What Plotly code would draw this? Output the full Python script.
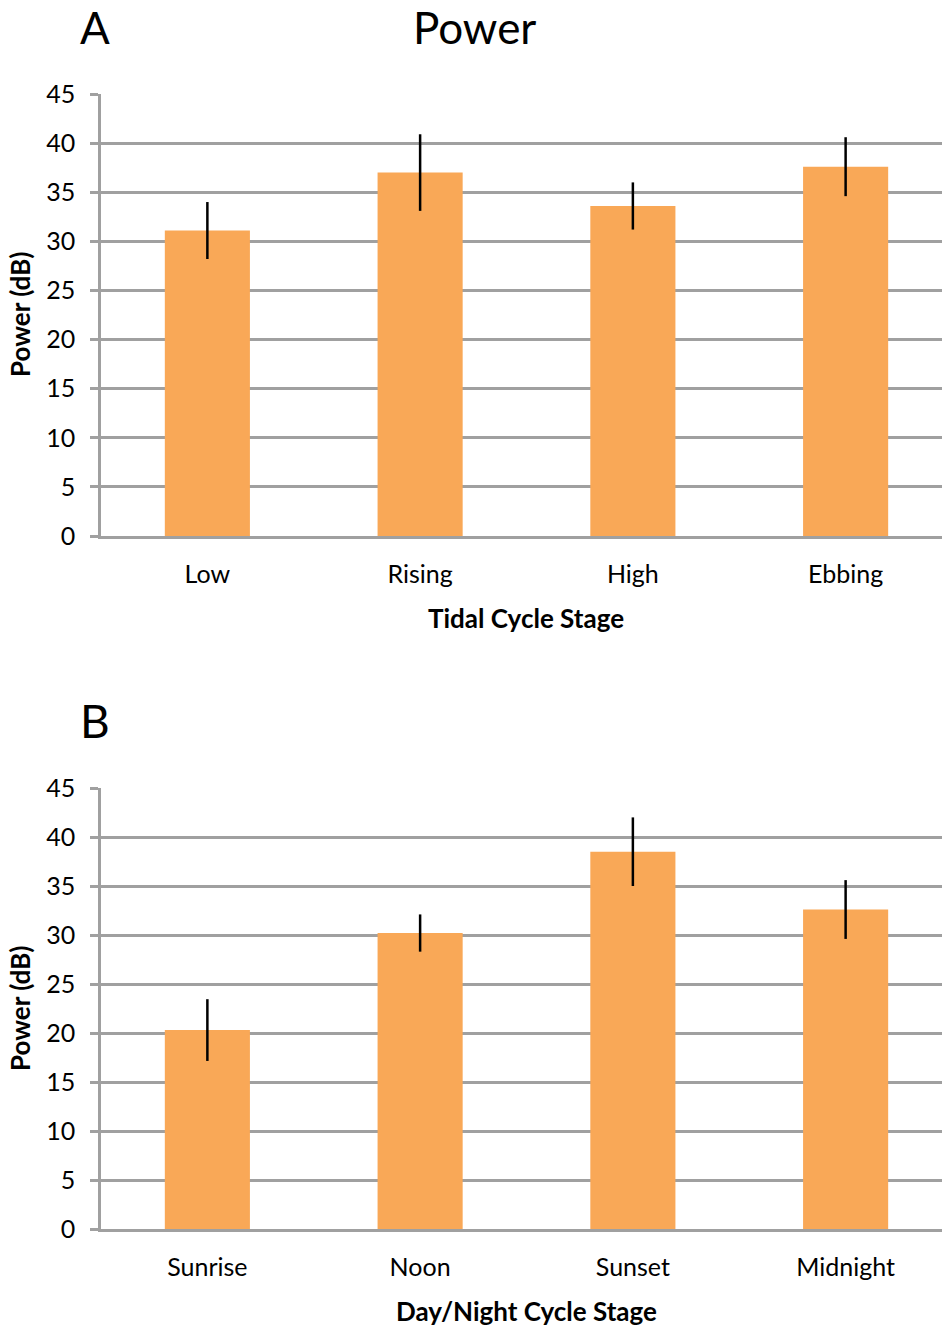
import plotly.graph_objects as go

# ---- data ----
tidal_stages = ["Low", "Rising", "High", "Ebbing"]
tidal_power = [31.1, 37.0, 33.6, 37.6]
tidal_err = [2.9, 3.9, 2.4, 3.0]

day_stages = ["Sunrise", "Noon", "Sunset", "Midnight"]
day_power = [20.3, 30.2, 38.5, 32.6]
day_err = [3.15, 1.9, 3.5, 3.0]

y_ticks = [0, 5, 10, 15, 20, 25, 30, 35, 40, 45]

W, H = 942, 1327
BAR = "#F9A857"
GRID = "#a0a0a0"
FONT = "Lato"

def py(px):
    return 1 - px / H

fig = go.Figure()
fig.add_trace(go.Bar(x=tidal_stages, y=tidal_power, marker=dict(color=BAR, line=dict(width=0)),
                     width=0.4, error_y=dict(type="data", array=tidal_err, color="black",
                                             thickness=2.5, width=0),
                     xaxis="x", yaxis="y", showlegend=False))
fig.add_trace(go.Bar(x=day_stages, y=day_power, marker=dict(color=BAR, line=dict(width=0)),
                     width=0.4, error_y=dict(type="data", array=day_err, color="black",
                                             thickness=2.5, width=0),
                     xaxis="x2", yaxis="y2", showlegend=False))

x_dom = [101 / W, 1.0]
xcommon = dict(range=[-0.5, 3.453], showline=True, linecolor=GRID, linewidth=2.5,
               ticks="", showgrid=False, tickfont=dict(family=FONT, size=25, color="black"),
               ticklabelstandoff=14, zeroline=False, automargin=False)
ycommon = dict(range=[0, 45], tickvals=y_ticks, showline=True, linecolor=GRID, linewidth=2.5,
               ticks="outside", ticklen=8, tickwidth=2.5, tickcolor=GRID,
               showgrid=True, gridcolor=GRID, gridwidth=2.5, zeroline=False,
               tickfont=dict(family=FONT, size=25, color="black"), ticklabelstandoff=10,
               automargin=False)

fig.update_layout(
    width=W, height=H, margin=dict(l=0, r=0, t=0, b=0, pad=0, autoexpand=False),
    paper_bgcolor="white", plot_bgcolor="white", bargap=0.6,
    xaxis=dict(domain=x_dom, anchor="y", **xcommon),
    yaxis=dict(domain=[py(536), py(94)], anchor="x", **ycommon),
    xaxis2=dict(domain=x_dom, anchor="y2", **xcommon),
    yaxis2=dict(domain=[py(1229), py(788)], anchor="x2", **ycommon),
)

ann = []
def text(x, y, s, size, bold=False, angle=0, yanchor="middle"):
    ann.append(dict(x=x / W, y=py(y), xref="paper", yref="paper", text=(f"<b>{s}</b>" if bold else s),
                    showarrow=False, textangle=angle, xanchor="center", yanchor=yanchor,
                    borderpad=0,
                    font=dict(family=FONT, size=size, color="black")))

text(95, 0, "A", 44, yanchor="top")
text(474, 0, "Power", 44, yanchor="top")
text(95, 720, "B", 46)
text(526, 618, "Tidal Cycle Stage", 26, bold=True)
text(526, 1311, "Day/Night Cycle Stage", 26, bold=True)
text(20, 315, "Power (dB)", 26, bold=True, angle=-90)
text(20, 1009, "Power (dB)", 26, bold=True, angle=-90)
fig.update_layout(annotations=ann)

fig.write_html("out.html")
